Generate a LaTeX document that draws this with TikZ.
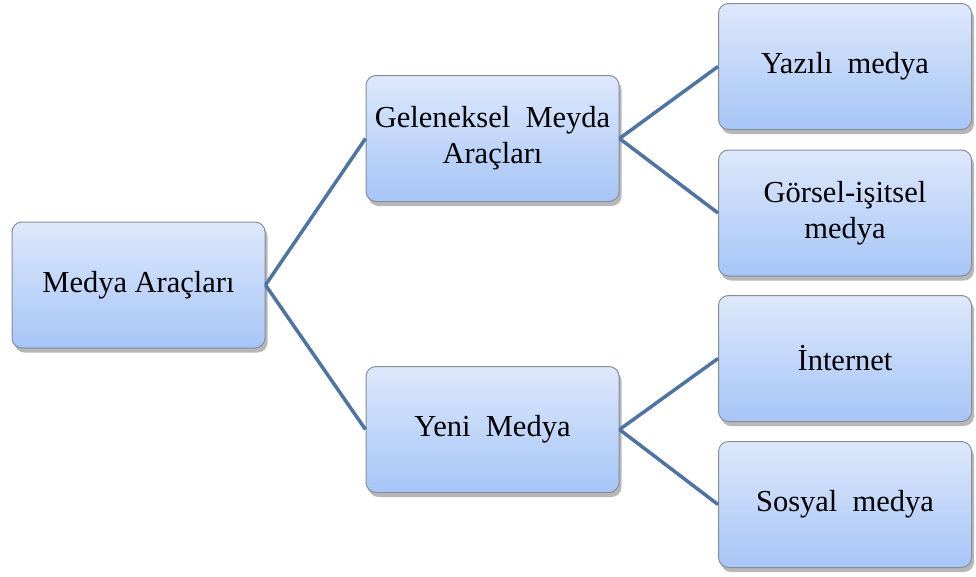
\documentclass[tikz,border=0pt]{standalone}
\usepackage{fontspec}
\setmainfont{Liberation Serif}
\usetikzlibrary{shadows}
\definecolor{boxtop}{HTML}{DDE8FB}
\definecolor{boxbot}{HTML}{A6C5F7}
\definecolor{boxline}{HTML}{858E99}
\definecolor{conn}{HTML}{4D74A2}
\tikzset{
  mbox/.style={draw=boxline, line width=1pt, rounded corners=10pt,
    top color=boxtop, bottom color=boxbot,
    minimum width=253pt, minimum height=126pt, inner sep=0pt, align=center,
    font=\fontsize{30.5}{36}\selectfont,
    drop shadow={shadow xshift=2.5pt, shadow yshift=-4.5pt, opacity=0.4, fill=black!70}},
  link/.style={draw=conn, line width=3.5pt}
}
\newcommand{\wsp}{\hspace{0.5em}}
\begin{document}
\begin{tikzpicture}[x=1pt,y=-1pt]
\useasboundingbox (0,0) rectangle (976,576);
\node[mbox] (root) at (138.5,285) {Medya Araçları};
\node[mbox] (gel) at (492.5,138.5) {Geleneksel\wsp Meyda\\Araçları};
\node[mbox] (yeni) at (492.5,429.5) {Yeni\wsp Medya};
\node[mbox] (yaz) at (845,66.5) {Yazılı\wsp medya};
\node[mbox] (gor) at (845,213) {Görsel-işitsel\\medya};
\node[mbox] (int) at (845,358.5) {İnternet};
\node[mbox] (sos) at (845,504.5) {Sosyal\wsp medya};
\draw[link] (root.east) -- (gel.west);
\draw[link] (root.east) -- (yeni.west);
\draw[link] (gel.east) -- (yaz.west);
\draw[link] (gel.east) -- (gor.west);
\draw[link] (yeni.east) -- (int.west);
\draw[link] (yeni.east) -- (sos.west);
\end{tikzpicture}
\end{document}
